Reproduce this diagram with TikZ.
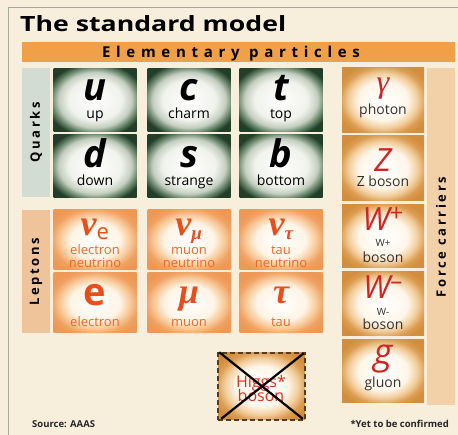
\documentclass[tikz,border=0pt]{standalone}
\usepackage{fontspec}
\setmainfont{Open Sans}
\newfontfamily\grk{Liberation Serif}
\usetikzlibrary{calc}
\definecolor{bg}{HTML}{F7EFDC}
\definecolor{frame}{HTML}{A8A898}
\definecolor{bar}{HTML}{F0A048}
\definecolor{qlab}{HTML}{D2DCD2}
\definecolor{llab}{HTML}{F0C49A}
\definecolor{flab}{HTML}{F2D0A8}
\definecolor{qg1}{HTML}{F0F2EC}
\definecolor{qg2}{HTML}{C4CEC0}
\definecolor{qg3}{HTML}{6A866C}
\definecolor{qg4}{HTML}{223E28}
\definecolor{lo1}{HTML}{FFF4E6}
\definecolor{lo2}{HTML}{F8CA9A}
\definecolor{lo3}{HTML}{F0A262}
\definecolor{lo4}{HTML}{EE9856}
\definecolor{fo1}{HTML}{FFF6EA}
\definecolor{fo2}{HTML}{F2CE9E}
\definecolor{fo3}{HTML}{DC9C50}
\definecolor{fo4}{HTML}{D28E3E}
\definecolor{lsym}{HTML}{E84E1C}
\definecolor{lname}{HTML}{E8692A}
\definecolor{fsym}{HTML}{D02424}
\definecolor{hbord}{HTML}{5A3A1E}
\pgfdeclareradialshading{greencell}{\pgfpoint{0bp}{0bp}}{color(0bp)=(white); color(16bp)=(qg1); color(22bp)=(qg2); color(26bp)=(qg3); color(30bp)=(qg4); color(50bp)=(qg4)}
\pgfdeclareradialshading{leptoncell}{\pgfpoint{0bp}{0bp}}{color(0bp)=(white); color(15bp)=(lo1); color(21bp)=(lo2); color(26bp)=(lo3); color(30bp)=(lo4); color(50bp)=(lo4)}
\pgfdeclareradialshading{forcecell}{\pgfpoint{0bp}{0bp}}{color(0bp)=(white); color(15bp)=(fo1); color(21bp)=(fo2); color(26bp)=(fo3); color(30bp)=(fo4); color(50bp)=(fo4)}
\tikzset{
  qbox/.style={shading=greencell, minimum width=83, minimum height=63, inner sep=0},
  lbox/.style={shading=leptoncell, minimum width=83, minimum height=60, inner sep=0},
  fbox/.style={shading=forcecell, minimum width=82, minimum height=#1, inner sep=0},
  qsym/.style={anchor=base, inner sep=0, text depth=0pt, font=\fontsize{38}{38}\selectfont\bfseries\itshape},
  qname/.style={anchor=base, inner sep=0, text height=0.75em, font=\fontsize{14}{14}\selectfont},
  lgsym/.style={anchor=base, inner sep=0, text depth=0pt, text=lsym, font=\fontsize{36}{36}\selectfont\grk\bfseries\itshape},
  lname/.style={anchor=base, inner sep=0, text height=0.6em, text depth=0.1em, text=lname, font=\fontsize{13}{13}\selectfont},
  fsymb/.style={anchor=base, inner sep=0, text depth=0pt, text=fsym, font=\fontsize{32}{32}\selectfont\itshape},
  fname/.style={anchor=base, inner sep=0, text height=0.6em, text depth=0.1em, text=black!80, font=\fontsize{14}{14}\selectfont},
  sidelab/.style={rotate=90, inner sep=0, font=\fontsize{13}{13}\selectfont\bfseries\addfontfeature{LetterSpace=20}},
  foot/.style={inner sep=0, font=\fontsize{9.5}{9.5}\selectfont\bfseries, text=black!85}
}
\begin{document}
\begin{tikzpicture}[x=1pt,y=-1pt]
\useasboundingbox (0,0) rectangle (458,435);
\fill[bg] (0,0) rectangle (458,435);
\draw[frame, line width=0.8] (8,435) coordinate (fb) -- (8,7) coordinate (fc) -- (458,7) coordinate (fd);
% title
\node[anchor=base west, inner sep=0] (title) at (20,32) {\fontsize{21}{21}\selectfont\bfseries\scalebox{1.27}[1]{The standard model}};
% bar
\node[fill=bar, minimum width=433, minimum height=20, inner sep=0, anchor=north west] (bar) at (22,42) {};
\node[anchor=base, inner sep=0] (bartext) at (231,58) {\fontsize{15}{15}\selectfont\bfseries\addfontfeature{LetterSpace=38}Elementary particles};
% side labels
\node[fill=qlab, minimum width=28, minimum height=129, inner sep=0, anchor=north west] (qcol) at (22,68) {};
\node[sidelab] (qtext) at (36,132) {Quarks};
\node[fill=llab, minimum width=28, minimum height=123, inner sep=0, anchor=north west] (lcol) at (22,210) {};
\node[sidelab] (ltext) at (36,272) {Leptons};
\node[fill=flab, minimum width=28, minimum height=337, inner sep=0, anchor=north west] (fcol) at (427,68) {};
\node[sidelab] (ftext) at (441,237) {Force carriers};
% quarks
\node[qbox] (u) at (95,100) {};
\node[qsym] at (95,101) {u};
\node[qname] at (95,119) {up};
\node[qbox] (c) at (189,100) {};
\node[qsym] at (189,101) {c};
\node[qname] at (189,119) {charm};
\node[qbox] (t) at (281,100) {};
\node[qsym] at (281,101) {t};
\node[qname] at (281,119) {top};
\node[qbox] (d) at (95,166) {};
\node[qsym] at (95,168) {d};
\node[qname] at (95,186) {down};
\node[qbox] (s) at (189,166) {};
\node[qsym] at (189,168) {s};
\node[qname] at (189,186) {strange};
\node[qbox] (b) at (281,166) {};
\node[qsym] at (281,168) {b};
\node[qname] at (281,186) {bottom};
% leptons
\node[lbox] (ne) at (95,240) {};
\node[lgsym] at (95,236) {ν\textsubscript{\normalfont\fontsize{22}{22}\selectfont e}};
\node[lname] at (95,255) {electron};
\node[lname] at (95,267.5) {neutrino};
\node[lbox] (nm) at (189,240) {};
\node[lgsym] at (189,236) {ν\textsubscript{\fontsize{19}{19}\selectfont μ}};
\node[lname] at (189,255) {muon};
\node[lname] at (189,267.5) {neutrino};
\node[lbox] (nt) at (281,240) {};
\node[lgsym] at (281,236) {ν\textsubscript{\fontsize{19}{19}\selectfont τ}};
\node[lname] at (281,255) {tau};
\node[lname] at (281,267.5) {neutrino};
\node[lbox] (e) at (95,303) {};
\node[lgsym, font=\fontsize{38}{38}\selectfont\bfseries] at (95,306) {e};
\node[lname] at (95,327) {electron};
\node[lbox] (mu) at (189,303) {};
\node[lgsym] at (189,304) {μ};
\node[lname] at (189,327) {muon};
\node[lbox] (tau) at (281,303) {};
\node[lgsym] at (281,304) {τ};
\node[lname] at (281,327) {tau};
% force carriers
\node[fbox=65] (ph) at (383,100.5) {};
\node[fsymb, font=\fontsize{32}{32}\selectfont\grk\itshape] at (383,93) {γ};
\node[fname] at (383,115) {photon};
\node[fbox=65] (Z) at (383,168.5) {};
\node[fsymb] at (383,172) {Z};
\node[fname] at (383,187) {Z boson};
\node[fbox=63] (Wp) at (383,236.5) {};
\node[fsymb] at (383,231) {W\textsuperscript{\fontsize{24}{24}\selectfont\upshape +}};
\node[fname, font=\fontsize{10}{10}\selectfont] at (383,247) {W+};
\node[fname] at (383,263) {boson};
\node[fbox=64] (Wm) at (383,304) {};
\node[fsymb] at (383,299) {W\textsuperscript{\fontsize{24}{24}\selectfont\upshape –}};
\node[fname, font=\fontsize{10}{10}\selectfont] at (383,316) {W-};
\node[fname] at (383,330) {boson};
\node[fbox=63] (g) at (383,371.5) {};
\node[fsymb, font=\fontsize{36}{36}\selectfont\itshape] at (383,365) {g};
\node[fname] at (383,388) {gluon};
% Higgs
\node[shading=forcecell, minimum width=87, minimum height=67, inner sep=0, draw=hbord, line width=1.5, dash pattern=on 5pt off 3pt] (H) at (261.5,386.5) {};
\node[anchor=base, inner sep=0, text=fsym!85!orange, font=\fontsize{16}{16}\selectfont] (Ht) at (261,388) {Higgs*};
\node[anchor=base, inner sep=0, text=fsym!85!orange, font=\fontsize{16}{16}\selectfont] (Hb) at (261,402) {boson};
\draw[line width=2.2, black] ($(H.north west)+(2,0)$) -- ($(H.south east)+(-3,-2)$);
\draw[line width=2.2, black] ($(H.north east)+(-2,1)$) -- ($(H.south west)+(4,-2)$);
% footnotes
\node[foot, anchor=base west] (src) at (32,428) {Source: AAAS};
\node[foot, anchor=base east] (yet) at (449,428) {*Yet to be confirmed};
\end{tikzpicture}
\end{document}
